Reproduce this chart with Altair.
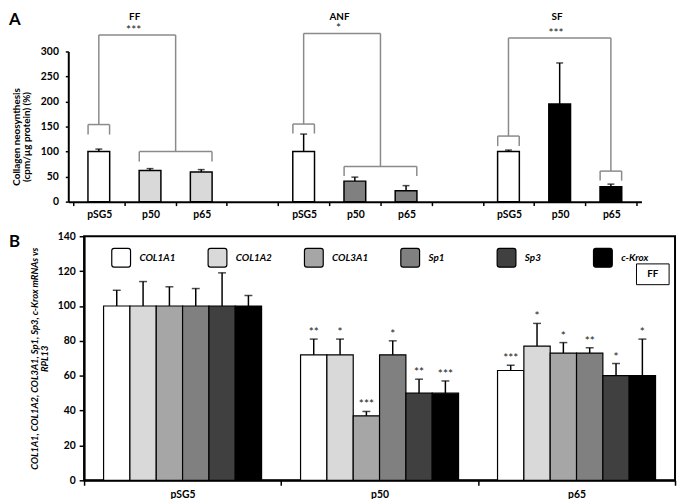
import altair as alt
import pandas as pd

FONT = "Lato"

# ---------------- Panel A: collagen neosynthesis ----------------
a_fibroblasts = ["FF", "ANF", "SF"]
a_slot_labels = ["pSG5", "p50", "p65", "", "pSG5", "p50", "p65", "", "pSG5", "p50", "p65", ""]
a_bar_slot = [0, 1, 2, 4, 5, 6, 8, 9, 10]
a_values = [100, 62, 59, 100, 41, 22, 100, 195, 30]
a_errors = [5, 4, 5, 35, 8, 10, 3, 82, 5]
a_colors = ["#ffffff", "#d9d9d9", "#d9d9d9", "#ffffff", "#808080", "#808080",
            "#ffffff", "#000000", "#000000"]

# significance brackets (axis units)
br_left_x = [(0.29, 0.71), (4.29, 4.71), (8.29, 8.71)]
br_left_y = [(154, 134), (155, 136), (131, 111)]
br_right_x = [(1.29, 2.71), (5.29, 6.71), (10.29, 10.71)]
br_right_y = [(100, 80), (70, 51), (61, 42)]
br_stem_x = [(0.5, 2.0), (4.5, 6.0), (8.5, 10.5)]
br_top_y = [333, 336, 327]
br_stars = ["***", "*", "***"]

# ---------------- Panel B: mRNA levels ----------------
genes = ["COL1A1", "COL1A2", "COL3A1", "Sp1", "Sp3", "c-Krox"]
gene_colors = ["#ffffff", "#d9d9d9", "#a6a6a6", "#808080", "#404040", "#000000"]
b_conditions = ["pSG5", "p50", "p65"]
b_pSG5 = [100, 100, 100, 100, 100, 100]
b_pSG5_err = [9, 14, 11, 10, 19, 6]
b_pSG5_sig = ["", "", "", "", "", ""]
b_p50 = [72, 72, 37, 72, 50, 50]
b_p50_err = [9, 9, 2.5, 8, 8, 7]
b_p50_sig = ["**", "*", "***", "*", "**", "***"]
b_p65 = [63, 77, 73, 73, 60, 60]
b_p65_err = [3, 13, 6, 3, 7, 21]
b_p65_sig = ["***", "*", "*", "**", "*", "*"]

# ---------- build tables ----------
a_df = pd.DataFrame({"slot": a_bar_slot, "y": a_values, "err": a_errors, "color": a_colors})
a_df["x"] = a_df["slot"] + 0.5
a_df["top"] = a_df["y"] + a_df["err"]

segs = []
for (l1, l2), (ly, lleg), (r1, r2), (ry, rleg), (s1, s2), ty in zip(
        br_left_x, br_left_y, br_right_x, br_right_y, br_stem_x, br_top_y):
    segs += [(l1, l2, ly, ly), (l1, l1, ly, lleg), (l2, l2, ly, lleg),
             (s1, s1, ly, ty), (s1, s2, ty, ty), (s2, s2, ty, ry),
             (r1, r2, ry, ry), (r1, r1, ry, rleg), (r2, r2, ry, rleg)]
seg_df = pd.DataFrame(segs, columns=["x", "x2", "y", "y2"])
star_df = pd.DataFrame({"x": [(a + b) / 2 - 0.07 for a, b in br_stem_x], "y": br_top_y, "t": br_stars})
title_df = pd.DataFrame({"x": [(a + b) / 2 - 0.05 for a, b in br_stem_x], "t": a_fibroblasts})
ann = pd.DataFrame({"t": [0]})

b_rows = []
for cond, vals, errs, sigs in zip(b_conditions, [b_pSG5, b_p50, b_p65],
                                  [b_pSG5_err, b_p50_err, b_p65_err],
                                  [b_pSG5_sig, b_p50_sig, b_p65_sig]):
    for g, v, e, s in zip(genes, vals, errs, sigs):
        b_rows.append(dict(cond=cond, gene=g, value=v, top=v + e, sig=s))
b_df = pd.DataFrame(b_rows)

# ---------- Panel A chart ----------
xA_scale = alt.Scale(domain=[0, 11], range=[-16, 564], nice=False, zero=False)
label_expr = "[" + ",".join("'%s'" % s for s in a_slot_labels) + "][datum.value]"
xA_axis = alt.Axis(values=list(range(12)), labelExpr=label_expr, labelOffset=26.4,
                   labelFlush=False, labelOverlap=False, tickSize=4, tickWidth=1.5,
                   domainWidth=2, title=None, labelPadding=4, labelFontSize=10.5)
yA_scale = alt.Scale(domain=[0, 300], nice=False)
yA_axis = alt.Axis(values=list(range(0, 301, 50)), offset=16, tickSize=3, tickWidth=1.5,
                   domainWidth=2, labelPadding=7, labelFontSize=10.5,
                   title=["Collagen neosynthesis", "(cpm/µg protein) (%)"],
                   titleX=-47, titleY=86, titleAngle=270, titleBaseline="bottom",
                   titleAlign="center", titleFontSize=10, titleLineHeight=10)


def XA(f):
    return alt.X(f + ":Q", scale=xA_scale, axis=xA_axis)


def YA(f):
    return alt.Y(f + ":Q", scale=yA_scale, axis=yA_axis)


brackets = alt.Chart(seg_df).mark_rule(color="#8a8a8a", strokeWidth=1.5).encode(
    x=XA("x"), x2="x2", y=YA("y"), y2="y2")
bars_a = alt.Chart(a_df).mark_bar(size=22, orient="vertical", stroke="black", strokeWidth=1.5).encode(
    x=XA("x"), y=YA("y"), fill=alt.Fill("color:N", scale=None))
err_a = alt.Chart(a_df).mark_rule(color="black", strokeWidth=1.5).encode(
    x=XA("x"), y=YA("y"), y2="top")
cap_a = alt.Chart(a_df).mark_tick(orient="horizontal", size=7, thickness=1.5, color="black").encode(
    x=XA("x"), y=YA("top"))
stars_a = alt.Chart(star_df).mark_text(baseline="alphabetic", dy=-1, fontSize=12, color="#222").encode(
    x=XA("x"), y=YA("y"), text="t:N")
titles_a = alt.Chart(title_df).mark_text(baseline="top", fontSize=10, fontWeight="bold", color="black").encode(
    x=XA("x"), y=alt.value(-40), text="t:N")
letter_a = alt.Chart(ann).mark_text(baseline="top", align="left", fontSize=17, fontWeight="bold",
                                    color="black").encode(
    x=alt.value(-76), y=alt.value(-40), text=alt.value("A"))

panelA = alt.layer(brackets, bars_a, err_a, cap_a, stars_a, titles_a, letter_a).properties(
    width=564, height=152, view=alt.ViewBackground(stroke=None))

# ---------- Panel B chart ----------
xB = alt.X("cond:N", scale=alt.Scale(domain=b_conditions, paddingInner=0, paddingOuter=0),
           axis=alt.Axis(title=None, labelAngle=0, tickBand="extent", tickSize=5, tickWidth=1.5,
                         domainWidth=2, labelPadding=4, labelFontSize=10.5))
xoB = alt.XOffset("gene:N", scale=alt.Scale(domain=genes, paddingInner=0, paddingOuter=0.74))
yB_scale = alt.Scale(domain=[0, 140], nice=False)
yB_axis = alt.Axis(values=list(range(0, 141, 20)), tickSize=5, tickWidth=1.5, domainWidth=2,
                   labelPadding=4, labelFontSize=10.5,
                   title=["COL1A1, COL1A2, COL3A1, Sp1, Sp3, c-Krox mRNAs vs", "RPL13"],
                   titleX=-45, titleY=123.5, titleAngle=270, titleBaseline="bottom",
                   titleAlign="center", titleFontSize=9.5, titleFontStyle="italic",
                   titleLineHeight=10)

rounded = "M-0.75,-1H0.75Q1,-1,1,-0.75V0.75Q1,1,0.75,1H-0.75Q-1,1,-1,0.75V-0.75Q-1,-1,-0.75,-1Z"

bars_b = alt.Chart(b_df).mark_bar(stroke="black", strokeWidth=1.2).encode(
    x=xB, xOffset=xoB,
    y=alt.Y("value:Q", scale=yB_scale, axis=yB_axis),
    fill=alt.Fill("gene:N", scale=alt.Scale(domain=genes, range=gene_colors),
                  legend=alt.Legend(orient="none", legendX=27, legendY=11, direction="horizontal",
                                    columns=6, title=None, symbolType=rounded, symbolSize=361,
                                    symbolStrokeColor="black", symbolStrokeWidth=1.2,
                                    labelFont=FONT, labelFontStyle="italic", labelFontWeight="bold",
                                    labelFontSize=10, labelOffset=8, columnPadding=29.5,
                                    gridAlign="all", padding=0, labelColor="black")))
err_b = alt.Chart(b_df).mark_rule(color="black", strokeWidth=1.5).encode(
    x=xB, xOffset=xoB, y=alt.Y("value:Q", scale=yB_scale, axis=yB_axis), y2="top")
cap_b = alt.Chart(b_df).mark_tick(size=8, thickness=1.5, color="black").encode(
    x=xB, xOffset=xoB, y=alt.Y("top:Q", scale=yB_scale, axis=yB_axis))
stars_b = alt.Chart(b_df).mark_text(baseline="alphabetic", dy=-3, fontSize=12, color="#222").encode(
    x=xB, xOffset=xoB, y=alt.Y("top:Q", scale=yB_scale, axis=yB_axis), text="sig:N")
inset_box = alt.Chart(ann).mark_rect(fill="white", stroke="black", strokeWidth=1).encode(
    x=alt.value(559), x2=alt.value(592), y=alt.value(28), y2=alt.value(49))
inset_text = alt.Chart(ann).mark_text(fontSize=10, fontWeight="bold", color="black").encode(
    x=alt.value(575.5), y=alt.value(38.5), text=alt.value("FF"))
letter_b = alt.Chart(ann).mark_text(baseline="top", align="left", fontSize=17, fontWeight="bold",
                                    color="black").encode(
    x=alt.value(-76), y=alt.value(-2), text=alt.value("B"))

panelB = alt.layer(bars_b, err_b, cap_b, stars_b, inset_box, inset_text, letter_b).properties(
    width=598, height=247, view=alt.ViewBackground(stroke="black", strokeWidth=2))

chart = alt.vconcat(panelA, panelB, spacing=10).resolve_scale(fill="independent").properties(
    padding=0, background="white"
).configure_axis(
    labelFont=FONT, titleFont=FONT, labelFontWeight="bold", titleFontWeight="bold",
    domainColor="black", tickColor="black", labelColor="black", titleColor="black", grid=False
).configure_text(font=FONT)

chart.save("out.html", embed_options={"renderer": "svg", "actions": False})
